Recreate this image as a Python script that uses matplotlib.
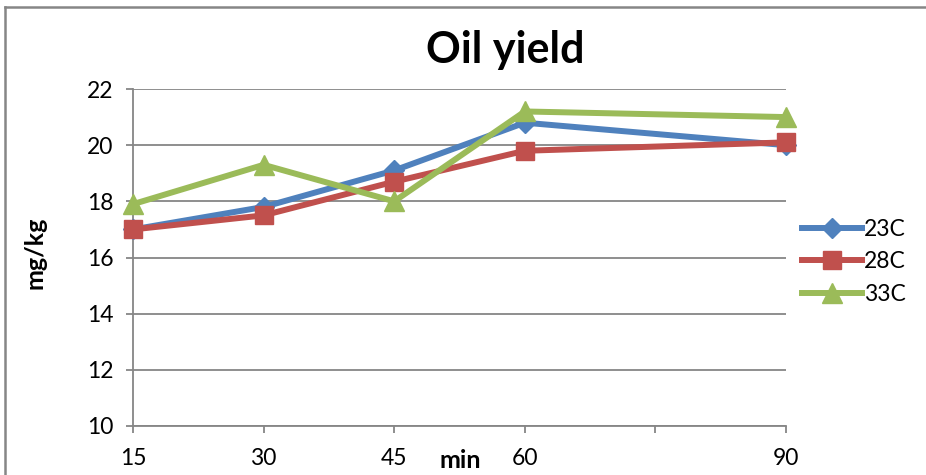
import numpy as np
import matplotlib.pyplot as plt
from matplotlib.lines import Line2D

# --- Datos ---
minutos = [15, 30, 45, 60, 90]
y_23C = [17.0, 17.8, 19.1, 20.8, 20.0]
y_28C = [17.0, 17.5, 18.7, 19.8, 20.1]
y_33C = [17.9, 19.3, 18.0, 21.2, 21.0]

xticks = [15, 30, 45, 60, 75, 90]
xtick_labels = ['15', '30', '45', '60', '', '90']
yticks = [10, 12, 14, 16, 18, 20, 22]

plt.rcParams['font.family'] = ['Lato', 'DejaVu Sans']

W, H = 926, 475
fig = plt.figure(figsize=(W / 100, H / 100), dpi=100)
ax = fig.add_axes([133 / W, 1 - 426 / H, (786 - 133) / W, (426 - 89) / H])

gris = '#868686'
ax.plot(minutos, y_23C, color='#4F81BD', lw=4.3, marker='D', ms=10, label='23C', zorder=3, clip_on=False)
ax.plot(minutos, y_28C, color='#C0504D', lw=4.3, marker='s', ms=13, label='28C', zorder=4, clip_on=False)
ax.plot(minutos, y_33C, color='#9BBB59', lw=4.3, marker='^', ms=15, label='33C', zorder=5, clip_on=False)

ax.set_xlim(15, 90)
ax.set_ylim(10, 22)
ax.set_xticks(xticks)
ax.set_xticklabels(xtick_labels)
ax.set_yticks(yticks)
ax.yaxis.grid(True, color=gris, lw=1.3)
ax.set_axisbelow(True)
for s in ['top', 'right']:
    ax.spines[s].set_visible(False)
for s in ['left', 'bottom']:
    ax.spines[s].set_color(gris)
    ax.spines[s].set_linewidth(1.3)
ax.tick_params(axis='both', colors=gris, labelcolor='black', labelsize=16.5, length=5, width=1.3)
ax.tick_params(axis='x', pad=11)
ax.tick_params(axis='y', pad=9)

fig.text(505 / W, 1 - 50 / H, 'Oil yield', ha='center', va='center', fontsize=31, fontweight='bold')
fig.text(35 / W, 1 - 253 / H, 'mg/kg', ha='center', va='center', rotation=90, fontsize=18, fontweight='bold')
fig.text(460 / W, 1 - 461 / H, 'min', ha='center', va='center', fontsize=18, fontweight='bold')

ax.legend(loc='center left', bbox_to_anchor=(802 / W, 1 - 262 / H), bbox_transform=fig.transFigure,
          frameon=False, fontsize=16.5, handlelength=2.6, labelspacing=0.5, handletextpad=0.1,
          borderaxespad=0, borderpad=0)

# borde del área del gráfico
fig.add_artist(Line2D([4.5 / W, 1], [1 - 6.5 / H, 1 - 6.5 / H], transform=fig.transFigure, color=gris, lw=1.8))
fig.add_artist(Line2D([4.5 / W, 4.5 / W], [0, 1 - 6.5 / H], transform=fig.transFigure, color=gris, lw=1.8))

fig.savefig('out.png', dpi=100)
